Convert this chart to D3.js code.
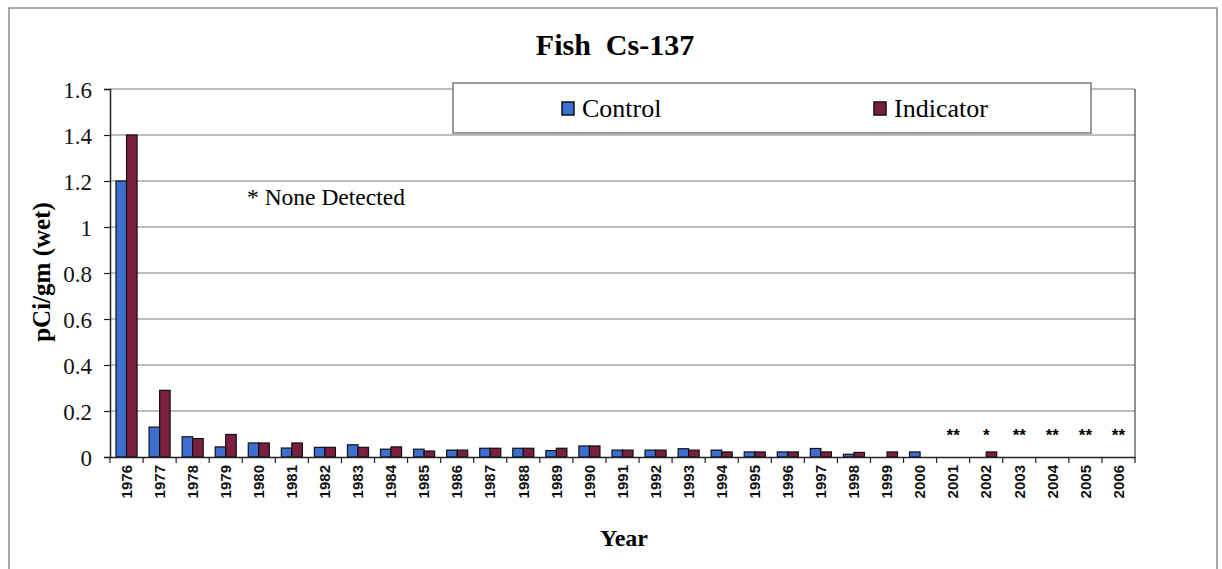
<!DOCTYPE html>
<html><head><meta charset="utf-8">
<script src="https://cdn.jsdelivr.net/npm/d3@7"></script>
<style>html,body{margin:0;padding:0;background:#fff}svg{display:block}</style>
</head><body>
<script>
const years = ["1976","1977","1978","1979","1980","1981","1982","1983","1984","1985","1986","1987","1988","1989","1990","1991","1992","1993","1994","1995","1996","1997","1998","1999","2000","2001","2002","2003","2004","2005","2006"];
const control = [1.2,0.13,0.088,0.044,0.061,0.039,0.042,0.053,0.034,0.034,0.03,0.038,0.038,0.028,0.048,0.03,0.03,0.036,0.03,0.022,0.022,0.037,0.012,null,0.022,null,null,null,null,null,null];
const indicator = [1.4,0.29,0.08,0.098,0.061,0.061,0.042,0.042,0.044,0.026,0.03,0.038,0.038,0.038,0.048,0.03,0.03,0.03,0.022,0.022,0.022,0.022,0.02,0.022,null,null,0.022,null,null,null,null];
const notes = [null,null,null,null,null,null,null,null,null,null,null,null,null,null,null,null,null,null,null,null,null,null,null,null,null,"**","*","**","**","**","**"];
const yTicks = [0,0.2,0.4,0.6,0.8,1,1.2,1.4,1.6];
const seriesNames = ["Control","Indicator"];
const colors = ["#3d6fd2","#7a1f40"];

const SERIF = "'Liberation Serif', 'Times New Roman', serif";
const SANS = "'Liberation Sans', Arial, sans-serif";

const W = 1222, H = 569;
const svg = d3.select("body").append("svg").attr("width", W).attr("height", H);

// outer border
svg.append("rect").attr("x",9).attr("y",8).attr("width",1208).attr("height",580)
  .attr("fill","none").attr("stroke","#8a8a8a").attr("stroke-width",1.5);

const L = 110, R = 1135, T = 89, B = 457;
const x = d3.scaleBand().domain(years).range([L, R]).paddingInner(0).paddingOuter(0);
const x1 = d3.scaleBand().domain(seriesNames).range([0, x.bandwidth()]).paddingInner(0).paddingOuter(0.57);
const y = d3.scaleLinear().domain([0, 1.6]).range([B, T]);

// gridlines
svg.append("g").selectAll("line").data(yTicks.filter(d => d > 0)).join("line")
  .attr("x1", L).attr("x2", R).attr("y1", d => y(d)).attr("y2", d => y(d))
  .attr("stroke", "#7a7a7a").attr("stroke-width", 1.2);
// right border of plot
svg.append("line").attr("x1", R).attr("x2", R).attr("y1", T).attr("y2", B)
  .attr("stroke", "#6a6a6a").attr("stroke-width", 1.5);

// bars
const rows = years.map((yr, i) => ({yr, vals: [control[i], indicator[i]]}));
const grp = svg.append("g").selectAll("g").data(rows).join("g")
  .attr("transform", d => `translate(${x(d.yr)},0)`);
grp.selectAll("rect").data(d => d.vals.map((v, j) => ({v, j})).filter(e => e.v != null)).join("rect")
  .attr("x", e => x1(seriesNames[e.j]))
  .attr("width", x1.bandwidth())
  .attr("y", e => y(e.v))
  .attr("height", e => B - y(e.v))
  .attr("fill", e => colors[e.j])
  .attr("stroke", "#111").attr("stroke-width", 1.2);

// notes (stars)
svg.append("g").selectAll("text").data(years.map((yr, i) => ({yr, n: notes[i]})).filter(d => d.n)).join("text")
  .attr("x", d => x(d.yr) + x.bandwidth() / 2).attr("y", 441)
  .attr("text-anchor", "middle").attr("font-family", SANS)
  .attr("font-weight", "bold").attr("font-size", 17).text(d => d.n);

// y axis
const yAxis = d3.axisLeft(y).tickValues(yTicks).tickSize(6).tickPadding(12)
  .tickFormat(d => d3.format("")(+d.toFixed(1)));
const gy = svg.append("g").attr("transform", `translate(${L},0)`).call(yAxis);
gy.select(".domain").attr("stroke", "#222").attr("stroke-width", 1.5);
gy.selectAll(".tick line").attr("stroke", "#222").attr("stroke-width", 1.2);
gy.selectAll(".tick text").attr("font-family", SERIF)
  .attr("font-size", 23).attr("fill", "#111").attr("dy", "0.35em");

// x axis
const xAxis = d3.axisBottom(x).tickSize(0).tickPadding(0);
const gx = svg.append("g").attr("transform", `translate(0,${B})`).call(xAxis);
gx.select(".domain").attr("stroke", "#222").attr("stroke-width", 1.5);
gx.selectAll(".tick text")
  .attr("font-family", SANS).attr("font-size", 15).attr("font-weight", "bold")
  .attr("fill", "#111")
  .attr("text-anchor", "end").attr("transform", "rotate(-90)")
  .attr("x", -8).attr("y", 0).attr("dy", "0.35em");
// boundary ticks
const bounds = years.map(d => x(d)).concat([R]);
svg.append("g").selectAll("line").data(bounds).join("line")
  .attr("x1", d => d).attr("x2", d => d).attr("y1", B).attr("y2", B + 6)
  .attr("stroke", "#222").attr("stroke-width", 1.2);

// title
svg.append("text").attr("x", 615).attr("y", 55).attr("text-anchor", "middle")
  .attr("font-family", SERIF).attr("font-weight", "bold")
  .attr("font-size", 30).attr("xml:space", "preserve").style("white-space", "pre").text("Fish  Cs-137");

// y label
svg.append("text").attr("transform", "translate(50,272) rotate(-90)").attr("text-anchor", "middle")
  .attr("font-family", SERIF).attr("font-weight", "bold")
  .attr("font-size", 25).text("pCi/gm (wet)");

// x label
svg.append("text").attr("x", 624).attr("y", 546).attr("text-anchor", "middle")
  .attr("font-family", SERIF).attr("font-weight", "bold")
  .attr("font-size", 24).text("Year");

// annotation
svg.append("text").attr("x", 247).attr("y", 205)
  .attr("font-family", SERIF)
  .attr("font-size", 23.5).text("* None Detected");

// legend
const lg = svg.append("g");
lg.append("rect").attr("x", 453).attr("y", 83).attr("width", 638).attr("height", 50)
  .attr("fill", "#fff").attr("stroke", "#7a7a7a").attr("stroke-width", 1.5);
const legendX = [562, 874];
seriesNames.forEach((n, i) => {
  lg.append("rect").attr("x", legendX[i]).attr("y", 102).attr("width", 12).attr("height", 13)
    .attr("fill", colors[i]).attr("stroke", "#111").attr("stroke-width", 1.5);
  lg.append("text").attr("x", legendX[i] + 20).attr("y", 117)
    .attr("font-family", SERIF).attr("font-size", 26).text(n);
});
</script>
</body></html>
